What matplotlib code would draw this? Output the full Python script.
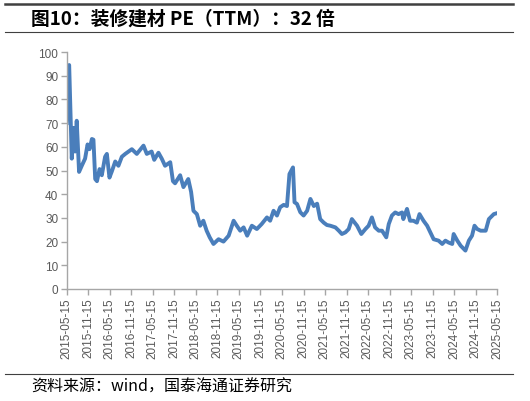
import matplotlib
matplotlib.use("Agg")
import matplotlib.pyplot as plt
import pandas as pd
from matplotlib.lines import Line2D

title = "图10：装修建材 PE（TTM）：32 倍"
source = "资料来源：wind，国泰海通证券研究"

dates = [
    "2015-05-15", "2015-06-05", "2015-06-27", "2015-07-10", "2015-07-25", "2015-08-08",
    "2015-08-28", "2015-09-20", "2015-10-18", "2015-11-08", "2015-11-25", "2015-12-15",
    "2015-12-28", "2016-01-12", "2016-01-27", "2016-02-18", "2016-03-08", "2016-04-05",
    "2016-04-20", "2016-05-12", "2016-06-01", "2016-06-30", "2016-07-27", "2016-08-25",
    "2016-09-23", "2016-11-18", "2016-12-30", "2017-02-25", "2017-03-25", "2017-05-05",
    "2017-05-27", "2017-07-02", "2017-07-30", "2017-08-27", "2017-10-10", "2017-11-02",
    "2017-11-20", "2018-01-02", "2018-01-30", "2018-03-12", "2018-04-05", "2018-04-25",
    "2018-05-24", "2018-06-21", "2018-07-18", "2018-08-15", "2018-09-10", "2018-10-12",
    "2018-11-24", "2019-01-05", "2019-02-18", "2019-04-01", "2019-04-28", "2019-05-27",
    "2019-06-25", "2019-07-25", "2019-09-03", "2019-10-15", "2019-11-25", "2020-01-09",
    "2020-02-05", "2020-03-05", "2020-04-03", "2020-04-30", "2020-05-30", "2020-06-27",
    "2020-07-18", "2020-08-17", "2020-08-30", "2020-09-20", "2020-10-18", "2020-11-15",
    "2020-12-15", "2021-01-12", "2021-02-10", "2021-03-10", "2021-04-05", "2021-05-05",
    "2021-06-01", "2021-06-30", "2021-08-12", "2021-09-10", "2021-10-06", "2021-11-05",
    "2021-12-03", "2021-12-30", "2022-02-12", "2022-03-20", "2022-04-24", "2022-05-21",
    "2022-06-18", "2022-07-15", "2022-08-15", "2022-09-12", "2022-10-18", "2022-11-08",
    "2022-12-05", "2023-01-02", "2023-01-30", "2023-03-01", "2023-03-12", "2023-04-12",
    "2023-05-08", "2023-06-05", "2023-07-05", "2023-07-27", "2023-08-30", "2023-09-30",
    "2023-10-27", "2023-11-24", "2024-01-05", "2024-02-05", "2024-03-03", "2024-03-30",
    "2024-04-30", "2024-05-12", "2024-06-12", "2024-07-10", "2024-08-20", "2024-09-18",
    "2024-10-15", "2024-11-05", "2024-11-28", "2024-12-27", "2025-02-08", "2025-03-07",
    "2025-04-18", "2025-05-15",
]
pe = [
    70, 94.5, 55, 68, 58, 71,
    49.4, 52, 55, 61, 59, 63.3,
    63, 46.4, 45.5, 50.6, 48, 55.8,
    57, 47, 49.6, 53.8, 52, 55.8,
    57, 59, 57, 60.5, 57, 58,
    54.5, 57.5, 55, 52, 53.5, 45.5,
    44.6, 48, 43, 46.4, 41, 33,
    31.6, 26.7, 28.8, 24.6, 21.8, 19,
    21, 20, 22.5, 28.8, 26.7, 24.6,
    26, 22.5, 26.7, 25.3, 27.4, 30.2,
    28.8, 33, 31, 34.5, 35.5, 35,
    48.5, 51.3, 36.6, 35.9, 32.4, 31,
    33, 38, 35, 36, 29.5, 28,
    27, 26.7, 26, 24.6, 23.2, 23.9,
    25.3, 29.5, 26.7, 23.2, 25.3, 26.7,
    30.2, 26, 24.6, 24.6, 21.8, 27.4,
    31, 32.3, 31.6, 32.3, 29.5, 33.8,
    28.8, 28.8, 28, 31.6, 28.8, 26.7,
    23.9, 21, 20.4, 19, 20.4, 19.6,
    19, 23.2, 20.4, 18.3, 16.2, 20.4,
    22.5, 26.7, 25.3, 24.6, 24.6, 29.5,
    31.6, 32,
]
tick_labels = [f"{y}-{m}-15" for y in range(2015, 2026) for m in ("05", "11")][:21]
y_ticks = list(range(0, 101, 10))

plt.rcParams['font.family'] = ['Liberation Sans', 'DejaVu Sans']

fig = plt.figure(figsize=(5.30, 4.02), dpi=100)
ax = fig.add_axes([66.7 / 530, 1 - 290 / 402, (497 - 66.7) / 530, (290 - 53) / 402])

x = pd.to_datetime(dates)
ax.plot(x, pe, color="#4a7ebb", lw=2.8, solid_joinstyle="round")

ticks = pd.to_datetime(tick_labels)
ax.set_xticks(ticks)
ax.set_xticklabels(tick_labels, rotation=90, fontsize=8.5, color="#595959")
ax.set_xlim(ticks[0], ticks[-1])
ax.set_ylim(0, 100)
ax.set_yticks(y_ticks)
ax.set_yticklabels([str(v) for v in y_ticks], fontsize=8.5, color="#595959")

for s in ("top", "right"):
    ax.spines[s].set_visible(False)
for s in ("left", "bottom"):
    ax.spines[s].set_color("#a6a6a6")
    ax.spines[s].set_linewidth(1.0)
ax.tick_params(axis="both", direction="out", length=4, color="#a6a6a6", width=1.0, pad=2)

# header / footer lines and texts
fig.add_artist(Line2D([5 / 530, 513 / 530], [1 - 5 / 402] * 2, color="#404040", lw=1.8))
fig.add_artist(Line2D([5 / 530, 513 / 530], [1 - 33 / 402] * 2, color="#404040", lw=0.8))
fig.add_artist(Line2D([5 / 530, 513 / 530], [1 - 375 / 402] * 2, color="#404040", lw=0.8))

fig.text(31 / 530, 1 - 19 / 402, title, family=["Noto Sans CJK SC", "DejaVu Sans"],
         fontsize=13.5, fontweight="bold", va="center", ha="left", color="black")
fig.text(31 / 530, 1 - 387 / 402, source, family=["Noto Sans CJK SC", "DejaVu Sans"],
         fontsize=11.5, va="center", ha="left", color="black")

fig.savefig("out.png", dpi=100)
